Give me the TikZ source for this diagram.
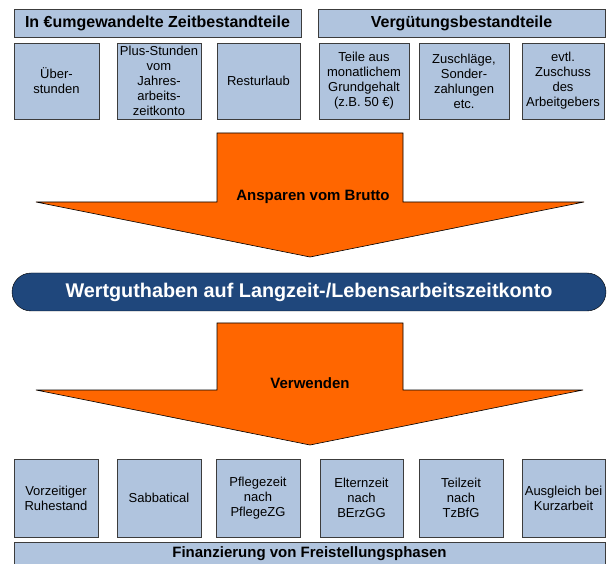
\documentclass[tikz,border=0pt]{standalone}
\usepackage{fontspec}
\setmainfont{Liberation Sans}
\usetikzlibrary{positioning,calc}
\definecolor{kastenblau}{RGB}{176,196,222}
\definecolor{rahmengrau}{RGB}{60,60,60}
\definecolor{pfeilorange}{RGB}{255,102,0}
\definecolor{kontoblau}{RGB}{31,71,124}
\tikzset{
  teil/.style={draw=rahmengrau, fill=kastenblau, inner sep=0pt, align=center,
    font=\fontsize{13}{15}\selectfont},
  kopf/.style={teil, font=\bfseries\fontsize{16}{18}\selectfont},
  pfeil/.style={fill=pfeilorange, draw=black, line width=0.6pt, line join=miter},
  pfeiltext/.style={font=\bfseries\fontsize{15}{17}\selectfont}
}
\begin{document}
\begin{tikzpicture}[x=1pt, y=-1pt]
  \clip (0,0) rectangle (611,564);
  \fill[white] (0,0) rectangle (611,564);
  %
  % Kopfzeilen
  \node[kopf, minimum width=287, minimum height=28] (zeit) at (157.5,23) {In €umgewandelte Zeitbestandteile};
  \node[kopf, minimum width=287, minimum height=28] (verg) at (461.5,23) {Vergütungsbestandteile};
  %
  % obere Kaesten
  \node[teil, minimum width=85, minimum height=76] (ueber) at (56.5,81) {Über-\\stunden};
  \node[teil, minimum width=84, minimum height=76] (plus) at (159,81) {Plus-Stunden\\vom\\Jahres-\\arbeits-\\zeitkonto};
  \node[teil, minimum width=83, minimum height=76] (rest) at (258.5,81) {Resturlaub};
  \node[teil, minimum width=90, minimum height=76] (gehalt) at (364,81) {Teile aus\\monatlichem\\Grundgehalt\\(z.B. 50 €)};
  \node[teil, minimum width=90, minimum height=76] (zuschl) at (464,81) {Zuschläge,\\Sonder-\\zahlungen\\etc.};
  \node[teil, minimum width=82, minimum height=76] (ag) at (563,81) {evtl.\\Zuschuss\\des\\Arbeitgebers};
  %
  % Pfeil 1
  \draw[pfeil] (217,133) -- (403,133) -- (403,202) -- (584,202) -- (310,257) -- (36,202) -- (217,202) -- cycle;
  \node[pfeiltext] (anspar) at (313,197) {Ansparen vom Brutto};
  %
  % Konto
  \node[draw=black, fill=kontoblau, rounded corners=19pt, minimum width=594, minimum height=38,
    text=white, font=\bfseries\fontsize{19.8}{22}\selectfont] (konto) at (309,292) {Wertguthaben auf Langzeit-/Lebensarbeitszeitkonto};
  %
  % Pfeil 2
  \draw[pfeil] (217,323) -- (403,323) -- (403,390) -- (583,390) -- (310,445) -- (36,390) -- (217,390) -- cycle;
  \node[pfeiltext] (verw) at (310,383) {Verwenden};
  %
  % untere Kaesten
  \node[teil, minimum width=84, minimum height=78] (ruhe) at (56,498) {Vorzeitiger\\Ruhestand};
  \node[teil, minimum width=84, minimum height=78] (sabb) at (159,498) {Sabbatical};
  \node[teil, minimum width=84, minimum height=78] (pflege) at (258,498) {Pflegezeit\\nach\\PflegeZG};
  \node[teil, minimum width=83, minimum height=78] (eltern) at (361.5,498) {Elternzeit\\nach\\BErzGG};
  \node[teil, minimum width=84, minimum height=78] (teilz) at (461,498) {Teilzeit\\nach\\TzBfG};
  \node[teil, minimum width=83, minimum height=78] (kurz) at (563.5,498) {Ausgleich bei\\Kurzarbeit};
  %
  \draw[draw=rahmengrau, fill=kastenblau] (14,542) rectangle (605,575);
  \node[font=\bfseries\fontsize{15}{17}\selectfont] (finanz) at (309.5,553.5) {Finanzierung von Freistellungsphasen};
  %
\end{tikzpicture}
\end{document}
